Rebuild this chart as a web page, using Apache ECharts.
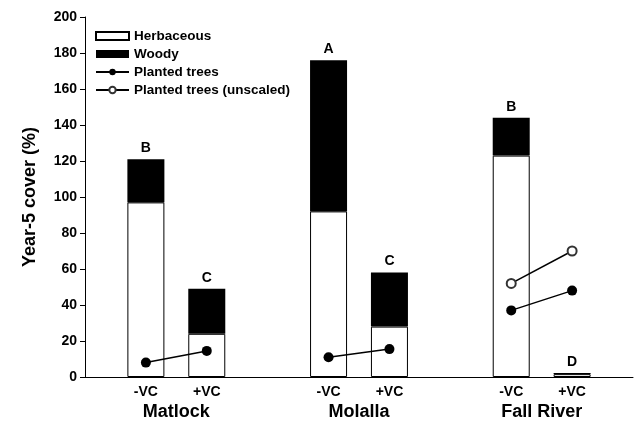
<!DOCTYPE html>
<html>
<head>
<meta charset="utf-8">
<script src="https://cdn.jsdelivr.net/npm/echarts@6/dist/echarts.min.js"></script>
<style>
  html, body { margin: 0; padding: 0; background: #fff; }
  #chart { width: 636px; height: 424px; }
</style>
</head>
<body>
<div id="chart"></div>
<script>
// slots along the x axis, empty slots keep the gaps between sites
const treatLabels = ['', '-VC', '+VC', '', '-VC', '+VC', '', '-VC', '+VC', ''];
const sites = ['Matlock', 'Molalla', 'Fall River'];
const herbaceous = ['-', 97, 24, '-', 92, 28, '-', 123, 1.6, '-'];
const woody = ['-', 24, 25, '-', 84, 30, '-', 21, 0.6, '-'];
const plantedTrees = ['-', 8, 14.5, '-', 11, 15.5, '-', 37, 48, '-'];
const plantedUnscaled = ['-', '-', '-', '-', '-', '-', '-', 52, 70, '-'];
const letters = ['', 'B', 'C', '', 'A', 'C', '', 'B', 'D', ''];
const yTicks = {min: 0, max: 200, interval: 20};

const FONT = 'Arial, "Liberation Sans", sans-serif';

const chart = echarts.init(document.getElementById('chart'));
let option = {
  animation: false,
  grid: {
    left: 85,
    right: 0,
    top: 17,
    bottom: 47
  },
  legend: {
    orient: 'vertical',
    left: 95,
    top: 29,
    padding: 0,
    itemWidth: 33,
    itemHeight: 8,
    itemGap: 4,
    textStyle: {
      color: '#000',
      fontFamily: FONT,
      fontWeight: 'bold',
      fontSize: 13.5
    },
    data: [
      {name: 'Herbaceous', icon: 'rect'},
      {name: 'Woody', icon: 'rect'},
      'Planted trees',
      'Planted trees (unscaled)'
    ]
  },
  xAxis: [{
    type: 'category',
    data: treatLabels,
    boundaryGap: false,
    axisLine: {lineStyle: {color: '#000', width: 1}},
    axisTick: {show: false},
    axisLabel: {
      interval: 0,
      margin: 8,
      color: '#000',
      fontFamily: FONT,
      fontWeight: 'bold',
      fontSize: 14
    }
  }, {
    type: 'category',
    data: sites,
    position: 'bottom',
    boundaryGap: true,
    axisLine: {show: false},
    axisTick: {show: false},
    axisLabel: {
      interval: 0,
      margin: 26,
      color: '#000',
      fontFamily: FONT,
      fontWeight: 'bold',
      fontSize: 18
    }
  }],
  yAxis: {
    type: 'value',
    min: yTicks.min,
    max: yTicks.max,
    interval: yTicks.interval,
    name: 'Year-5 cover (%)',
    nameLocation: 'middle',
    nameGap: 46,
    nameTextStyle: {
      color: '#000',
      fontFamily: FONT,
      fontWeight: 'bold',
      fontSize: 18
    },
    axisLine: {show: true, lineStyle: {color: '#000', width: 1}},
    axisTick: {show: true, inside: false, length: 5, lineStyle: {color: '#000'}},
    axisLabel: {
      margin: 8,
      color: '#000',
      fontFamily: FONT,
      fontWeight: 'bold',
      fontSize: 14
    },
    splitLine: {show: false}
  },
  series: [{
    type: 'bar',
    name: 'Herbaceous',
    stack: 'cover',
    data: herbaceous,
    barWidth: 37,
    itemStyle: {color: '#fff', borderColor: '#000', borderWidth: 1}
  }, {
    type: 'bar',
    name: 'Woody',
    stack: 'cover',
    data: woody,
    barWidth: 37,
    itemStyle: {color: '#000'},
    label: {
      show: true,
      position: 'top',
      distance: 4,
      color: '#000',
      fontFamily: FONT,
      fontWeight: 'bold',
      fontSize: 14,
      formatter: function (p) {
        return letters[p.dataIndex];
      }
    }
  }, {
    type: 'line',
    name: 'Planted trees',
    data: plantedTrees,
    connectNulls: false,
    symbol: 'circle',
    symbolSize: 10,
    lineStyle: {color: '#000', width: 1.5},
    itemStyle: {color: '#000'},
    z: 5
  }, {
    type: 'line',
    name: 'Planted trees (unscaled)',
    data: plantedUnscaled,
    connectNulls: false,
    symbol: 'circle',
    symbolSize: 9,
    lineStyle: {color: '#000', width: 1.5},
    itemStyle: {color: '#fff', borderColor: '#333', borderWidth: 2},
    z: 5
  }]
};

chart.setOption(option);
</script>
</body>
</html>
